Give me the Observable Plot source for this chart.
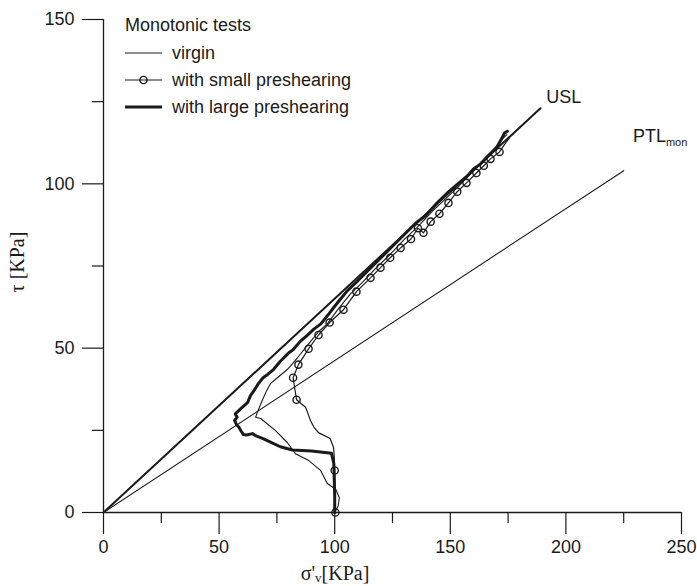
<!DOCTYPE html>
<html><head><meta charset="utf-8">
<script src="https://cdn.jsdelivr.net/npm/d3@7"></script>
<script src="https://cdn.jsdelivr.net/npm/@observablehq/plot@0.6"></script>
<style>
body{margin:0;background:#fff;}
#wrap{position:relative;width:697px;height:586px;}
</style></head><body><div id="wrap"></div>
<script>
// ---- axis ticks ----
const xTicks = [0, 50, 100, 150, 200, 250];
const xMinor = [25, 75, 125, 175, 225];
const yTicks = [0, 50, 100, 150];
const yMinor = [25, 75, 125];

// ---- reference lines (from origin to end point) ----
const uslEnd = [189, 123];
const ptlEnd = [225, 104];
const uslLabelAt = [191.5, 126.5];
const ptlLabelAt = [229, 114.5];

// ---- Monotonic tests: virgin ----
const virginSigma = [100, 101.5, 102, 100.5, 96.8, 93.9, 88.8, 83, 79.5, 74.4, 68, 65.8, 66.5, 68.6, 70.5, 72.2, 75.2, 79.5, 83.8, 89.5, 93, 96.8, 101, 106.8, 112, 118, 124, 130, 136, 142, 148, 154, 160, 166, 170, 173, 174.5];
const virginTau   = [0, 2, 4.5, 7, 8.8, 12.8, 15.8, 17.9, 21.3, 24.9, 28.6, 29, 30.4, 34, 37, 39.2, 41, 43.5, 47, 52, 55, 57.4, 61.4, 66.5, 70, 74.5, 78.5, 83, 87, 91.5, 95.5, 99.5, 104, 108, 111.5, 114, 115];

// ---- with small preshearing (marker flag 1 = circle) ----
const smallSigma  = [100.3, 100.2, 100, 99.8, 99.5, 98, 93, 91, 89.5, 88.5, 87.4, 83.5, 82, 84.3, 88.7, 93, 97.8, 103.8, 109.4, 115.5, 119.8, 124, 128.5, 133, 136, 138.4, 141.5, 145.3, 149.2, 153, 157, 161.3, 164.5, 167.4, 171.3, 173.5, 175.6];
const smallTau    = [0, 6, 12.8, 17, 19.8, 22.5, 24.3, 26, 28, 30, 32, 34.3, 41, 45, 49.8, 54, 57.8, 61.7, 67.2, 71.4, 74.5, 77.5, 80.5, 83.2, 86.5, 85.1, 88.5, 90.9, 94.2, 97.6, 100.3, 103.3, 105.5, 107.6, 109.7, 112, 114];
const smallMarker = [1, 0, 1, 0, 0, 0, 0, 0, 0, 0, 0, 1, 1, 1, 1, 1, 1, 1, 1, 1, 1, 1, 1, 1, 1, 1, 1, 1, 1, 1, 1, 1, 1, 1, 1, 0, 0];

// ---- with large preshearing ----
const largeSigma = [100, 100, 99.8, 99.6, 98.6, 90, 81.7, 76.5, 72, 69, 66, 64.4, 62, 60.5, 59.5, 58.5, 57.5, 56.7, 57.8, 57, 58.5, 60, 62.3, 63.5, 65, 67, 69, 71, 73.5, 76.5, 80, 82, 85, 88, 91, 94, 97, 99.5, 102, 105.5, 110, 115, 120, 125, 130, 135, 139.3, 144, 148.8, 153, 157.4, 160, 163, 167, 170, 172, 173.5, 174.7];
const largeTau   = [0, 5, 10, 15, 18, 18.7, 19, 20, 21.5, 22.5, 23.3, 24, 23.6, 23.7, 24.8, 26, 26.8, 28, 29, 30, 31, 32, 33.4, 35.5, 37, 39.2, 41, 42, 43.5, 46, 48.5, 49.5, 52, 53.8, 55.8, 57.4, 60, 62.3, 64.5, 67.5, 70.5, 74, 77.5, 81, 84.5, 88, 90.3, 94, 97.3, 99.8, 102.4, 104.5, 106, 109, 111, 113.5, 115.5, 116];

const legendTitle = "Monotonic tests";
const legendLabels = ["virgin", "with small preshearing", "with large preshearing"];

// build tables
const virgin = virginSigma.map((x, i) => ({x, y: virginTau[i]}));
const small = smallSigma.map((x, i) => ({x, y: smallTau[i], m: smallMarker[i]}));
const large = largeSigma.map((x, i) => ({x, y: largeTau[i]}));
const usl = [{x: 0, y: 0}, {x: uslEnd[0], y: uslEnd[1]}];
const ptl = [{x: 0, y: 0}, {x: ptlEnd[0], y: ptlEnd[1]}];

const INK = "#1a1a1a";
const SANS = "'Liberation Sans', Arial, sans-serif";
const SERIF = "'Liberation Serif', 'Times New Roman', serif";

const chart = Plot.plot({
  width: 697, height: 586,
  marginLeft: 103, marginRight: 16, marginTop: 19, marginBottom: 74,
  style: {fontFamily: SANS, fontSize: "18px", color: INK, background: "#fff"},
  x: {domain: [0, 250]},
  y: {domain: [0, 150]},
  marks: [
    Plot.axisX({ticks: xMinor, tickSize: 11, text: null, label: null, stroke: INK, strokeWidth: 1.2}),
    Plot.axisX({ticks: xTicks, tickSize: 22, tickPadding: 6, label: null, stroke: INK, strokeWidth: 1.2, fontSize: 18}),
    Plot.axisY({ticks: yMinor, tickSize: 11, text: null, label: null, stroke: INK, strokeWidth: 1.2}),
    Plot.axisY({ticks: yTicks, tickSize: 21, tickPadding: 8, label: null, stroke: INK, strokeWidth: 1.2, fontSize: 18}),
    Plot.ruleY([0], {stroke: INK, strokeWidth: 1.3}),
    Plot.ruleX([0], {stroke: INK, strokeWidth: 1.3}),
    Plot.line(ptl, {x: "x", y: "y", stroke: INK, strokeWidth: 1.1}),
    Plot.line(usl, {x: "x", y: "y", stroke: INK, strokeWidth: 2}),
    Plot.line(virgin, {x: "x", y: "y", stroke: INK, strokeWidth: 1.1, strokeLinejoin: "round"}),
    Plot.line(small, {x: "x", y: "y", stroke: INK, strokeWidth: 1.2, strokeLinejoin: "round"}),
    Plot.dot(small.filter(d => d.m), {x: "x", y: "y", r: 3.6, stroke: INK, strokeWidth: 1.4, fill: "none"}),
    Plot.line(large, {x: "x", y: "y", stroke: INK, strokeWidth: 3, strokeLinejoin: "round"}),
    Plot.text([uslLabelAt], {x: d => d[0], y: d => d[1], text: () => "USL", textAnchor: "start", fontSize: 18, fill: INK}),
    Plot.text([ptlLabelAt], {x: d => d[0], y: d => d[1], text: () => "PTL", textAnchor: "start", fontSize: 18, fill: INK}),
    Plot.text([ptlLabelAt], {x: d => d[0], y: d => d[1], text: () => "mon", textAnchor: "start", dx: 33, dy: 6, fontSize: 11, fill: INK})
  ]
});

document.getElementById("wrap").appendChild(chart);
const svg = d3.select(chart);

// axis titles
const xt = svg.append("text").attr("x", 335).attr("y", 580).attr("text-anchor", "middle")
  .attr("font-family", SERIF).attr("font-size", 20).attr("fill", INK);
xt.append("tspan").text("σ'");
xt.append("tspan").attr("font-size", 13).attr("dy", 2).text("v");
xt.append("tspan").attr("dy", -2).text("[KPa]");

svg.append("text").attr("transform", "translate(24,262) rotate(-90)").attr("text-anchor", "middle")
  .attr("font-family", SERIF).attr("font-size", 20).attr("fill", INK).text("τ [KPa]");

// legend
const lg = svg.append("g").attr("font-family", SANS).attr("font-size", 18).attr("fill", INK)
  .attr("text-anchor", "start");
lg.append("text").attr("x", 125).attr("y", 31).attr("text-anchor", "start").text(legendTitle);
const rowsY = [53, 80, 107];
const widths = [1.1, 1.2, 3];
legendLabels.forEach((lab, i) => {
  lg.append("line").attr("x1", 125).attr("x2", 162).attr("y1", rowsY[i]).attr("y2", rowsY[i])
    .attr("stroke", INK).attr("stroke-width", widths[i]);
  if (i === 1) lg.append("circle").attr("cx", 143.5).attr("cy", rowsY[i]).attr("r", 3.6)
    .attr("fill", "none").attr("stroke", INK).attr("stroke-width", 1.4);
  lg.append("text").attr("x", 172).attr("y", rowsY[i] + 6).attr("text-anchor", "start").text(lab);
});
</script></body></html>
